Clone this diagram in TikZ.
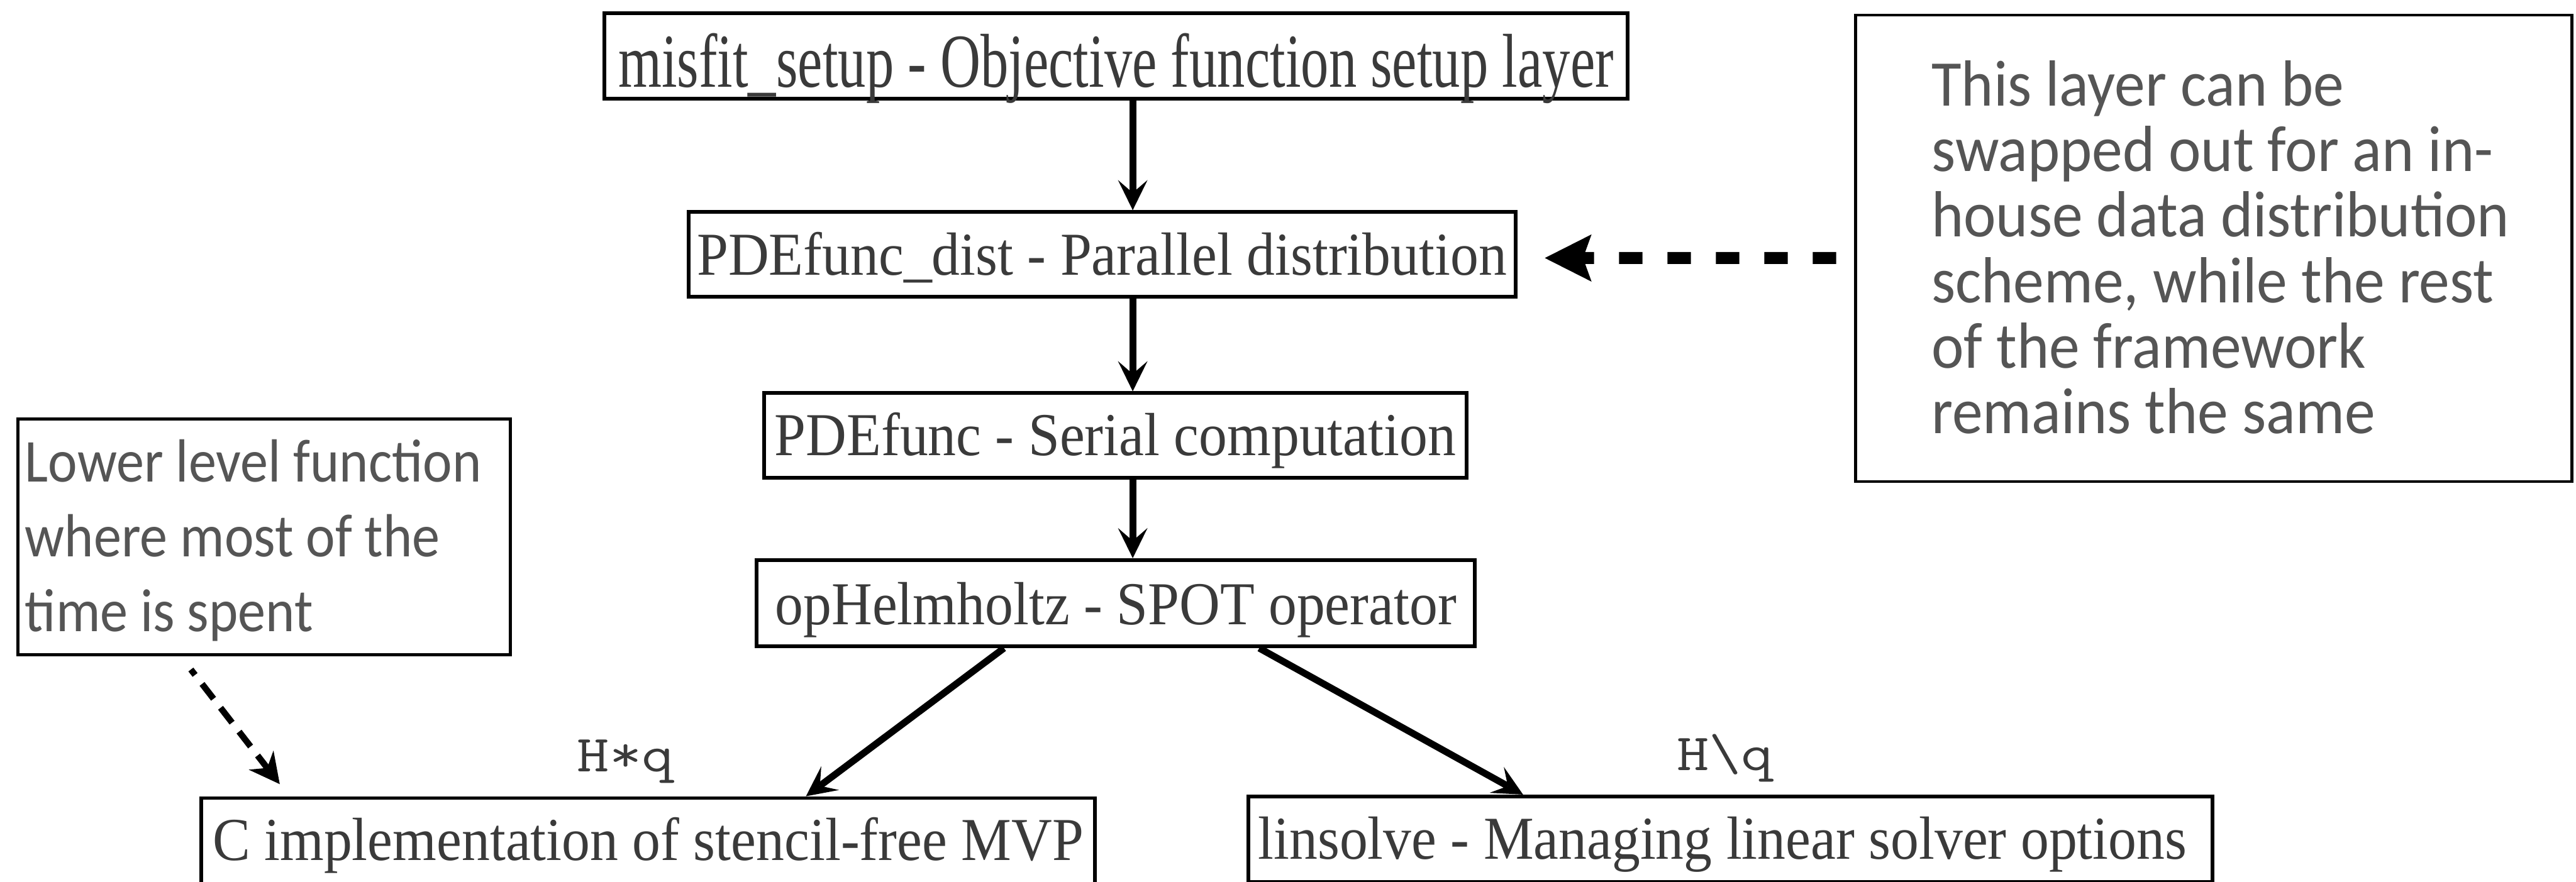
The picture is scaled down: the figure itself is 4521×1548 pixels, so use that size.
\documentclass[tikz,border=0pt]{standalone}
\usepackage{fontspec}
\setmainfont{Liberation Serif}
\newfontfamily\boxfont{Liberation Serif}[FakeStretch=0.925]
\newfontfamily\topfont{Liberation Serif}[FakeStretch=0.73]
\newfontfamily\rnotefont{Carlito}[FakeStretch=0.94]
\newfontfamily\lnotefont{Carlito}[FakeStretch=0.91]
\usetikzlibrary{arrows.meta}
\definecolor{boxtxt}{RGB}{58,58,58}
\definecolor{notetxt}{RGB}{85,85,85}
\begin{document}
\begin{tikzpicture}[x=0.2pt,y=-0.2pt,
  layerbox/.style={draw=black, line width=1.3pt, inner sep=0pt, text=boxtxt, text depth=0pt,
    font=\boxfont\fontsize{21.4pt}{25pt}\selectfont},
  notebox/.style={draw=black, line width=1pt, inner sep=0pt},
  notetext/.style={anchor=base west, inner sep=0pt, text=notetxt},
  codelabel/.style={anchor=base west, inner sep=0pt, text=boxtxt},
  flow/.style={line width=2.4pt, -{Stealth[length=10.6pt,width=10.4pt,inset=4.5pt,line width=0pt]}},
  swaparrow/.style={line width=4.2pt, dash pattern=on 8.2pt off 8.8pt,
    -{Stealth[length=16.4pt,width=16.6pt,inset=3pt,line width=0pt]}},
  hotarrow/.style={line width=2.2pt, dash pattern=on 6.6pt off 4pt, dash phase=4.2pt,
    -{Stealth[length=10.7pt,width=11pt,inset=3.5pt,line width=0pt]}}
]
\useasboundingbox (0,0) rectangle (4521,1548);

% layer boxes
\node[layerbox, minimum width=359.3pt, minimum height=30.1pt, text height=21.8pt,
  font=\topfont\fontsize{26.8pt}{30pt}\selectfont] (b1) at (1958.5,98.5)
  {misfit\_setup - Objective function setup layer};
\node[layerbox, minimum width=290.3pt, minimum height=29.7pt, text height=14.6pt] (b2) at (1934,446.5)
  {PDEfunc\_dist - Parallel distribution};
\node[layerbox, minimum width=246.5pt, minimum height=29.7pt, text height=14.2pt] (b3) at (1957.5,764.5)
  {PDEfunc - Serial computation};
\node[layerbox, minimum width=252.1pt, minimum height=30.3pt, text height=15pt] (b4) at (1958.5,1059)
  {opHelmholtz - SPOT operator};
\node[layerbox, minimum width=313.7pt, minimum height=30.1pt, text height=13.8pt] (b5) at (1137.5,1476.5)
  {C implementation of stencil-free MVP};
\node[layerbox, minimum width=338.3pt, minimum height=30.1pt, text height=13.8pt] (b6) at (3037,1473.5)
  {linsolve - Managing linear solver options\hspace*{5.6pt}};

% note boxes
\node[notebox, minimum width=251.4pt, minimum height=163.8pt] (rnote) at (3885,436) {};
\node[notetext, font=\rnotefont\fontsize{22.9pt}{23pt}\selectfont] (rnotetext) at (3389,186)
  {\parbox[t]{220pt}{\raggedright This layer can be\\swapped out for an in-\\house data distribution\\scheme, while the rest\\of the framework\\remains the same}};
\node[notebox, minimum width=172.8pt, minimum height=82.8pt] (lnote) at (463.5,942.5) {};
\node[notetext, font=\lnotefont\fontsize{21.4pt}{26.2pt}\selectfont] (lnotetext) at (43,846.5)
  {\parbox[t]{168pt}{\raggedright Lower level function\\where most of the\\time is spent}};

% call labels
\node[codelabel] (lblmul) at (1012,1355)
  {\scalebox{1.2}[1]{\ttfamily\fontsize{18.3pt}{22pt}\selectfont H*q}};
\node[codelabel] (lblsolve) at (2942,1353)
  {\scalebox{1.2}[1]{\ttfamily\fontsize{18.3pt}{22pt}\selectfont H\textbackslash q}};

% connectors
\coordinate (ax) at (1988,0);
\draw[flow] (b1.south -| ax) -- (b2.north -| ax);
\draw[flow] (b2.south -| ax) -- (b3.north -| ax);
\draw[flow] (b3.south -| ax) -- (b4.north -| ax);
\draw[flow] ([xshift=-39.3pt]b4.south) -- ([xshift=55.4pt]b5.north);
\draw[flow] ([xshift=50.3pt]b4.south) -- ([xshift=-72.8pt]b6.north);
\draw[swaparrow] ([shift={(-31.5,17)}]rnote.west) -- ([shift={(48.25,6.5)}]b2.east);
\draw[hotarrow] ([shift={(-128.5,23.5)}]lnote.south) -- ([shift={(-646.5,-21.25)}]b5.north);
\end{tikzpicture}
\end{document}
